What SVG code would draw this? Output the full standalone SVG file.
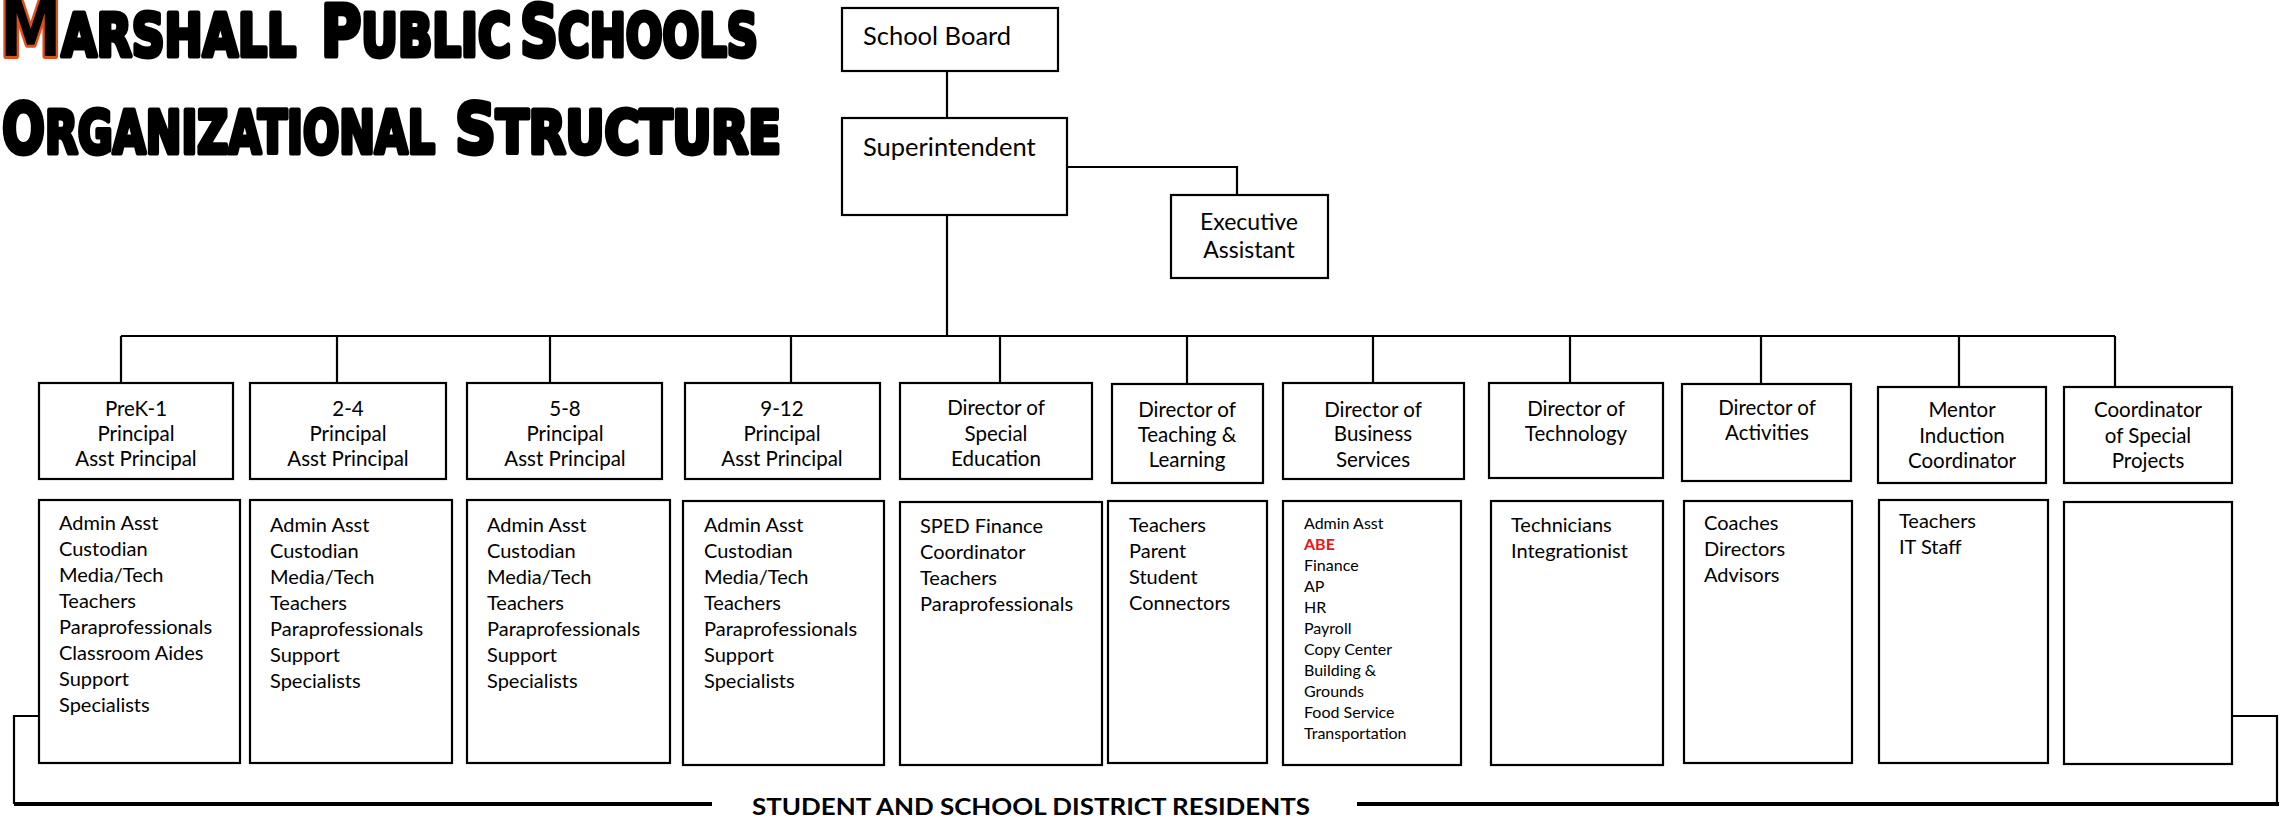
<svg xmlns="http://www.w3.org/2000/svg" width="2280" height="820" viewBox="0 0 2280 820">
<style>
  .box { fill: #ffffff; stroke: #000000; stroke-width: 2.2; }
  .t { font-family: Lato, "Open Sans", "Liberation Sans", sans-serif; font-size: 20px; fill: #000000; }
  .h { font-size: 20.5px; }
  .c { text-anchor: middle; }
  .big { font-size: 25.5px; }
  .ex { font-size: 23px; }
  .sm { font-size: 16px; }
  .red { fill: #e8141b; font-weight: bold; }
  .title { font-family: "DejaVu Sans", "Liberation Sans", sans-serif; font-weight: bold; font-size: 59px; fill: #000000; stroke: #000000; stroke-width: 5; stroke-linejoin: round; }
  .conn { fill: none; stroke: #000000; stroke-width: 2.2; }
  .thick { fill: none; stroke: #000000; stroke-width: 4; }
  .foot { font-family: Lato, "Liberation Sans", sans-serif; font-weight: bold; font-size: 22px; fill: #000000; }
</style>

<g id="title">
  <text class="title" x="0" y="56" textLength="296" lengthAdjust="spacingAndGlyphs"><tspan font-size="80" stroke="#e0501c" stroke-width="6" paint-order="stroke">M</tspan>ARSHALL</text>
  <text class="title" x="321" y="56" textLength="190" lengthAdjust="spacingAndGlyphs"><tspan font-size="72">P</tspan>UBLIC</text>
  <text class="title" x="520" y="56" textLength="238" lengthAdjust="spacingAndGlyphs"><tspan font-size="72">S</tspan>CHOOLS</text>
  <text class="title" x="2" y="153" textLength="433" lengthAdjust="spacingAndGlyphs"><tspan font-size="70">O</tspan>RGANIZATIONAL</text>
  <text class="title" x="455" y="153" textLength="326" lengthAdjust="spacingAndGlyphs"><tspan font-size="70">S</tspan>TRUCTURE</text>
</g>

<g id="connectors">
  <path class="conn" d="M947 71 V118"/>
  <path class="conn" d="M1067 167 H1237 V195"/>
  <path class="conn" d="M947 215 V336"/>
  <path class="conn" d="M121 336 H2115"/>
  <path class="conn" d="M121 336 V383 M337 336 V383 M550 336 V383 M791 336 V383 M1000 336 V383 M1187 336 V384 M1373 336 V383 M1570 336 V383 M1761 336 V384 M1959 336 V387 M2115 336 V387"/>
  <path class="conn" d="M39 716 H14 V804"/>
  <path class="conn" d="M2232 716 H2277 V804"/>
  <path class="thick" d="M14 804 H712"/>
  <path class="thick" d="M1357 804 H2279"/>
</g>

<g id="school-board">
  <rect class="box" x="842" y="8" width="216" height="63"/>
  <text class="t big" x="863" y="45">School Board</text>
</g>
<g id="superintendent">
  <rect class="box" x="842" y="118" width="225" height="97"/>
  <text class="t big" x="863" y="156">Superintendent</text>
</g>
<g id="executive-assistant">
  <rect class="box" x="1171" y="195" width="157" height="83"/>
  <text class="t ex c" x="1249" y="230">Executive</text>
  <text class="t ex c" x="1249" y="258">Assistant</text>
</g>

<g id="prek1-principal">
  <rect class="box" x="39" y="383" width="194" height="96"/>
  <text class="t h c" x="136" y="416">PreK-1</text>
  <text class="t h c" x="136" y="441">Principal</text>
  <text class="t h c" x="136" y="466">Asst Principal</text>
</g>
<g id="g24-principal">
  <rect class="box" x="250" y="383" width="196" height="96"/>
  <text class="t h c" x="348" y="416">2-4</text>
  <text class="t h c" x="348" y="441">Principal</text>
  <text class="t h c" x="348" y="466">Asst Principal</text>
</g>
<g id="g58-principal">
  <rect class="box" x="467" y="383" width="195" height="96"/>
  <text class="t h c" x="565" y="416">5-8</text>
  <text class="t h c" x="565" y="441">Principal</text>
  <text class="t h c" x="565" y="466">Asst Principal</text>
</g>
<g id="g912-principal">
  <rect class="box" x="685" y="383" width="195" height="96"/>
  <text class="t h c" x="782" y="416">9-12</text>
  <text class="t h c" x="782" y="441">Principal</text>
  <text class="t h c" x="782" y="466">Asst Principal</text>
</g>
<g id="dir-special-ed">
  <rect class="box" x="900" y="383" width="192" height="96"/>
  <text class="t h c" x="996" y="415">Director of</text>
  <text class="t h c" x="996" y="441">Special</text>
  <text class="t h c" x="996" y="466">Education</text>
</g>
<g id="dir-teaching">
  <rect class="box" x="1112" y="384" width="151" height="99"/>
  <text class="t h c" x="1187" y="417">Director of</text>
  <text class="t h c" x="1187" y="442">Teaching &amp;</text>
  <text class="t h c" x="1187" y="467">Learning</text>
</g>
<g id="dir-business">
  <rect class="box" x="1283" y="383" width="181" height="96"/>
  <text class="t h c" x="1373" y="417">Director of</text>
  <text class="t h c" x="1373" y="441">Business</text>
  <text class="t h c" x="1373" y="467">Services</text>
</g>
<g id="dir-technology">
  <rect class="box" x="1489" y="383" width="174" height="95"/>
  <text class="t h c" x="1576" y="416">Director of</text>
  <text class="t h c" x="1576" y="441">Technology</text>
</g>
<g id="dir-activities">
  <rect class="box" x="1682" y="384" width="169" height="97"/>
  <text class="t h c" x="1767" y="415">Director of</text>
  <text class="t h c" x="1767" y="440">Activities</text>
</g>
<g id="mentor-coordinator">
  <rect class="box" x="1878" y="387" width="168" height="96"/>
  <text class="t h c" x="1962" y="417">Mentor</text>
  <text class="t h c" x="1962" y="443">Induction</text>
  <text class="t h c" x="1962" y="468">Coordinator</text>
</g>
<g id="special-projects">
  <rect class="box" x="2064" y="387" width="168" height="96"/>
  <text class="t h c" x="2148" y="417">Coordinator</text>
  <text class="t h c" x="2148" y="443">of Special</text>
  <text class="t h c" x="2148" y="468">Projects</text>
</g>

<g id="prek1-staff">
  <rect class="box" x="39" y="500" width="201" height="263"/>
  <text class="t" x="59" y="530">Admin Asst</text>
  <text class="t" x="59" y="556">Custodian</text>
  <text class="t" x="59" y="582">Media/Tech</text>
  <text class="t" x="59" y="608">Teachers</text>
  <text class="t" x="59" y="634">Paraprofessionals</text>
  <text class="t" x="59" y="660">Classroom Aides</text>
  <text class="t" x="59" y="686">Support</text>
  <text class="t" x="59" y="712">Specialists</text>
</g>
<g id="g24-staff">
  <rect class="box" x="250" y="500" width="202" height="263"/>
  <text class="t" x="270" y="532">Admin Asst</text>
  <text class="t" x="270" y="558">Custodian</text>
  <text class="t" x="270" y="584">Media/Tech</text>
  <text class="t" x="270" y="610">Teachers</text>
  <text class="t" x="270" y="636">Paraprofessionals</text>
  <text class="t" x="270" y="662">Support</text>
  <text class="t" x="270" y="688">Specialists</text>
</g>
<g id="g58-staff">
  <rect class="box" x="467" y="500" width="203" height="263"/>
  <text class="t" x="487" y="532">Admin Asst</text>
  <text class="t" x="487" y="558">Custodian</text>
  <text class="t" x="487" y="584">Media/Tech</text>
  <text class="t" x="487" y="610">Teachers</text>
  <text class="t" x="487" y="636">Paraprofessionals</text>
  <text class="t" x="487" y="662">Support</text>
  <text class="t" x="487" y="688">Specialists</text>
</g>
<g id="g912-staff">
  <rect class="box" x="683" y="501" width="201" height="264"/>
  <text class="t" x="704" y="532">Admin Asst</text>
  <text class="t" x="704" y="558">Custodian</text>
  <text class="t" x="704" y="584">Media/Tech</text>
  <text class="t" x="704" y="610">Teachers</text>
  <text class="t" x="704" y="636">Paraprofessionals</text>
  <text class="t" x="704" y="662">Support</text>
  <text class="t" x="704" y="688">Specialists</text>
</g>
<g id="special-ed-staff">
  <rect class="box" x="900" y="502" width="202" height="263"/>
  <text class="t" x="920" y="533">SPED Finance</text>
  <text class="t" x="920" y="559">Coordinator</text>
  <text class="t" x="920" y="585">Teachers</text>
  <text class="t" x="920" y="611">Paraprofessionals</text>
</g>
<g id="teaching-staff">
  <rect class="box" x="1108" y="501" width="159" height="262"/>
  <text class="t" x="1129" y="532">Teachers</text>
  <text class="t" x="1129" y="558">Parent</text>
  <text class="t" x="1129" y="584">Student</text>
  <text class="t" x="1129" y="610">Connectors</text>
</g>
<g id="business-staff">
  <rect class="box" x="1283" y="501" width="178" height="264"/>
  <text class="t sm" x="1304" y="529">Admin Asst</text>
  <text class="t sm red" x="1304" y="550">ABE</text>
  <text class="t sm" x="1304" y="571">Finance</text>
  <text class="t sm" x="1304" y="592">AP</text>
  <text class="t sm" x="1304" y="613">HR</text>
  <text class="t sm" x="1304" y="634">Payroll</text>
  <text class="t sm" x="1304" y="655">Copy Center</text>
  <text class="t sm" x="1304" y="676">Building &amp;</text>
  <text class="t sm" x="1304" y="697">Grounds</text>
  <text class="t sm" x="1304" y="718">Food Service</text>
  <text class="t sm" x="1304" y="739">Transportation</text>
</g>
<g id="technology-staff">
  <rect class="box" x="1491" y="501" width="172" height="264"/>
  <text class="t" x="1511" y="532">Technicians</text>
  <text class="t" x="1511" y="558">Integrationist</text>
</g>
<g id="activities-staff">
  <rect class="box" x="1684" y="501" width="168" height="262"/>
  <text class="t" x="1704" y="530">Coaches</text>
  <text class="t" x="1704" y="556">Directors</text>
  <text class="t" x="1704" y="582">Advisors</text>
</g>
<g id="mentor-staff">
  <rect class="box" x="1879" y="500" width="169" height="263"/>
  <text class="t" x="1899" y="528">Teachers</text>
  <text class="t" x="1899" y="554">IT Staff</text>
</g>
<g id="special-projects-staff">
  <rect class="box" x="2064" y="502" width="168" height="262"/>
</g>

<g id="residents">
  <text class="foot" x="752" y="815" textLength="558" lengthAdjust="spacingAndGlyphs">STUDENT AND SCHOOL DISTRICT RESIDENTS</text>
</g>
</svg>
